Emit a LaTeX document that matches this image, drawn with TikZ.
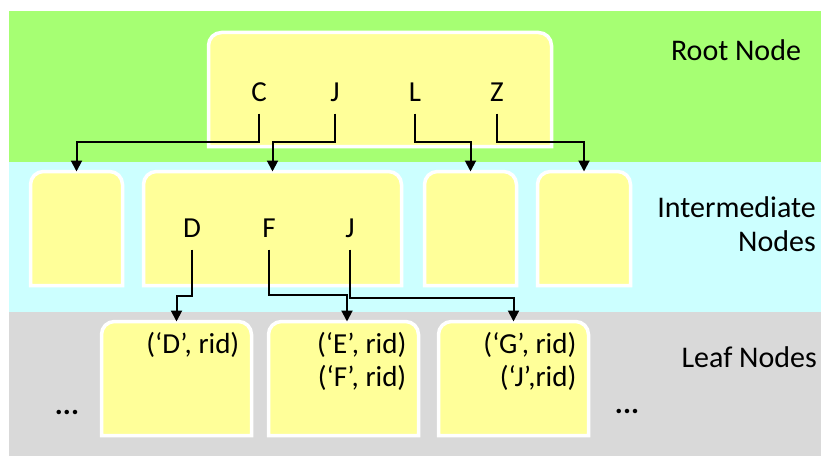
\documentclass[tikz,border=0pt]{standalone}
\usepackage{fontspec}
\setmainfont{Carlito}
\usetikzlibrary{arrows.meta}
\definecolor{rootband}{RGB}{166,255,115}
\definecolor{midband}{RGB}{204,255,255}
\definecolor{leafband}{RGB}{217,217,217}
\definecolor{pagefill}{RGB}{255,255,153}
\newcommand{\tabshape}[1]{%
  \filldraw[tab] (#1.south west) -- ([yshift=-13pt]#1.north west)
    arc[start angle=180, end angle=90, radius=13pt] -- ([xshift=-13pt]#1.north east)
    arc[start angle=90, end angle=0, radius=13pt] -- (#1.south east) -- cycle;}
\begin{document}
\begin{tikzpicture}[x=1pt, y=1pt,
  slot/.style={rectangle, inner sep=0pt, outer sep=0pt, minimum height=114pt},
  tab/.style={fill=pagefill, draw=white, line width=3.5pt},
  key/.style={inner xsep=0pt, inner ysep=12pt, text height=19pt, text depth=0pt,
    font=\fontsize{29}{33}\selectfont},
  entry/.style={inner sep=0pt, align=right, anchor=north east,
    font=\fontsize{29}{33}\selectfont},
  side/.style={inner sep=0pt, align=right, font=\fontsize{30}{34}\selectfont},
  link/.style={line width=2pt, -{Triangle[width=11pt,length=11pt]}}]
\useasboundingbox (0,0) rectangle (821,456);
\fill[rootband] (9,294) rectangle (821,445);
\fill[midband] (9,144) rectangle (821,294);
\fill[leafband] (9,0) rectangle (821,144);

\node[slot, minimum width=343pt] (root) at (380,366.5) {};
\node[slot, minimum width=92pt] (mid1) at (76.5,227.5) {};
\node[slot, minimum width=258pt] (mid2) at (272.5,227.5) {};
\node[slot, minimum width=92pt] (mid3) at (470.5,227.5) {};
\node[slot, minimum width=93pt] (mid4) at (584,227.5) {};
\node[slot, minimum width=150pt] (leaf1) at (176.5,77.5) {};
\node[slot, minimum width=150pt] (leaf2) at (343.5,77.5) {};
\node[slot, minimum width=150pt] (leaf3) at (513.5,77.5) {};
\tabshape{root}
\tabshape{mid1}
\tabshape{mid2}
\tabshape{mid3}
\tabshape{mid4}
\tabshape{leaf1}
\tabshape{leaf2}
\tabshape{leaf3}

\node[key] (kC) at (259,364) {C};
\node[key] (kJ) at (335,364) {J};
\node[key] (kL) at (415,364) {L};
\node[key] (kZ) at (497,364) {Z};
\node[key] (kD) at (192,228) {D};
\node[key] (kF) at (269,228) {F};
\node[key] (kJJ) at (350,228) {J};

\draw[link] (kC.south) -- ++(0,-28.5) -| (mid1.north);
\draw[link] (kJ.south) -- ++(0,-28.5) -| (mid2.north);
\draw[link] (kL.south) -- ++(0,-28.5) -| (mid3.north);
\draw[link] (kZ.south) -- ++(0,-28.5) -| (mid4.north);
\draw[link] (kD.south) -- ++(0,-46.5) -| (leaf1.north);
\draw[link] (kF.south) -- ++(0,-45.5) -| ([xshift=3.5pt]leaf2.north);
\draw[link] (kJJ.south) -- ++(0,-48.5) -| (leaf3.north);

\node[entry] (e1) at ([xshift=-12pt,yshift=-11pt]leaf1.north east) {(‘D’, rid)};
\node[entry] (e2) at ([xshift=-12pt,yshift=-11pt]leaf2.north east) {(‘E’, rid)\\(‘F’, rid)};
\node[entry] (e3) at ([xshift=-12pt,yshift=-11pt]leaf3.north east) {(‘G’, rid)\\(‘J’,rid)};

\node[side] (dotsL) at (67,44) {\bfseries ...};
\node[side] (dotsR) at (627,45) {\bfseries ...};

\node[side] (lroot) at (736,406) {Root Node};
\node[side, anchor=east] (lmid) at (816,232) {Intermediate\\Nodes};
\node[side, anchor=east] (lleaf) at (817,99) {Leaf Nodes};
\end{tikzpicture}
\end{document}
